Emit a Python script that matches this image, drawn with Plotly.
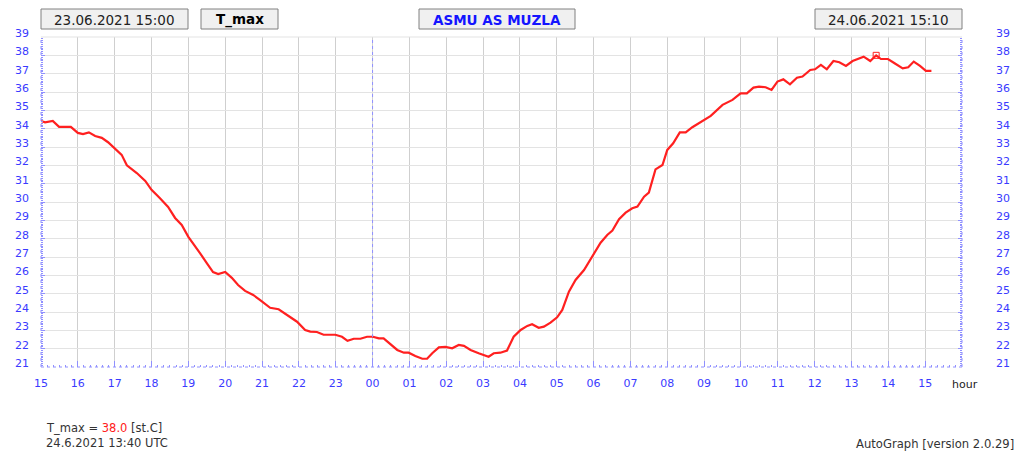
import plotly.graph_objects as go

# ---- data (hours since 23.06.2021 15:00, T_max in st.C) ----
hours = [0.00, 0.11, 0.32, 0.49, 0.81, 1.00, 1.14, 1.30, 1.47, 1.65, 1.82, 2.06, 2.19, 2.33,
         2.60, 2.83, 3.00, 3.23, 3.45, 3.64, 3.82, 4.00, 4.13, 4.32, 4.50, 4.67, 4.81, 5.00,
         5.18, 5.35, 5.54, 5.76, 5.95, 6.22, 6.45, 6.68, 6.95, 7.17, 7.31, 7.49, 7.67, 7.99,
         8.17, 8.32, 8.49, 8.67, 8.85, 9.01, 9.17, 9.30, 9.48, 9.67, 9.85, 9.98, 10.16, 10.35,
         10.48, 10.62, 10.80, 10.98, 11.16, 11.34, 11.48, 11.66, 11.88, 12.15, 12.29, 12.47,
         12.65, 12.83, 13.02, 13.20, 13.33, 13.51, 13.65, 13.83, 14.01, 14.15, 14.33, 14.51,
         14.74, 14.96, 15.19, 15.37, 15.51, 15.69, 15.87, 16.05, 16.19, 16.37, 16.50, 16.68,
         16.87, 17.00, 17.16, 17.34, 17.50, 17.68, 17.91, 18.18, 18.50, 18.77, 18.99, 19.16,
         19.34, 19.49, 19.67, 19.83, 19.99, 20.15, 20.33, 20.52, 20.67, 20.88, 21.01, 21.17,
         21.33, 21.51, 21.67, 21.85, 22.03, 22.18, 22.33, 22.51, 22.67, 22.80, 22.99, 23.17,
         23.39, 23.54, 23.69, 23.86, 24.02, 24.17]
t_max = [34.42, 34.35, 34.42, 34.10, 34.10, 33.77, 33.70, 33.80, 33.60, 33.50, 33.26, 32.84, 32.57, 32.00,
         31.58, 31.15, 30.66, 30.20, 29.73, 29.13, 28.75, 28.10, 27.76, 27.20, 26.67, 26.18, 26.07, 26.18,
         25.86, 25.47, 25.15, 24.93, 24.65, 24.23, 24.15, 23.84, 23.47, 23.02, 22.93, 22.91, 22.76, 22.76,
         22.65, 22.43, 22.54, 22.54, 22.65, 22.65, 22.56, 22.56, 22.25, 21.93, 21.78, 21.78, 21.60, 21.45,
         21.45, 21.75, 22.07, 22.10, 22.02, 22.20, 22.15, 21.93, 21.75, 21.56, 21.75, 21.78,
         21.90, 22.65, 23.02, 23.24, 23.33, 23.14, 23.20, 23.42, 23.71, 24.11, 25.11, 25.75,
         26.29, 27.02, 27.78, 28.20, 28.44, 29.06, 29.42, 29.66, 29.75, 30.29, 30.51, 31.78,
         32.02, 32.84, 33.20, 33.80, 33.80, 34.08, 34.38, 34.70, 35.30, 35.57, 35.93, 35.93,
         36.24, 36.29, 36.26, 36.11, 36.57, 36.69, 36.42, 36.78, 36.84, 37.20, 37.24, 37.48,
         37.24, 37.69, 37.62, 37.42, 37.69, 37.80, 37.93, 37.69, 38.00, 37.80, 37.80, 37.57,
         37.29, 37.35, 37.66, 37.42, 37.15, 37.15]
max_hour = [22.67]
max_value = [38.0]
hour_ticks = list(range(0, 25))
hour_labels = ["15", "16", "17", "18", "19", "20", "21", "22", "23", "00", "01", "02", "03",
               "04", "05", "06", "07", "08", "09", "10", "11", "12", "13", "14", "15"]
midnight_hour = 9
y_ticks = list(range(21, 40))

FONT = "DejaVu Sans"
BLUE = "#3a3aff"
AXBLUE = "#9090ff"

fig = go.Figure()
fig.add_trace(go.Scatter(x=hours, y=t_max, mode="lines",
                         line=dict(color="#ff2020", width=2.2), hoverinfo="skip"))
fig.add_trace(go.Scatter(x=max_hour, y=max_value, mode="markers", yaxis="y2",
                         marker=dict(symbol="square-open", size=6, color="#ff2020",
                                     line=dict(width=1, color="#ff2020"))))

yax_common = dict(range=[21, 39], tickvals=y_ticks, ticks="inside", ticklen=4,
                  tickcolor=AXBLUE, tickwidth=1, zeroline=False, showline=False,
                  tickfont=dict(family=FONT, size=11, color=BLUE),
                  minor=dict(dtick=0.1, ticks="inside", ticklen=2, tickcolor=AXBLUE,
                             showgrid=False),
                  fixedrange=True)

fig.update_layout(
    width=1024, height=461,
    margin=dict(l=41, r=62, t=37, b=94, autoexpand=False),
    paper_bgcolor="white", plot_bgcolor="white",
    showlegend=False,
    xaxis=dict(range=[0, 25], tickvals=hour_ticks, ticktext=hour_labels,
               ticks="inside", ticklen=6, tickcolor=AXBLUE, zeroline=False, showline=False,
               showgrid=True, gridcolor="#cfcfcf", gridwidth=1,
               tickfont=dict(family=FONT, size=11, color=BLUE), ticklabelstandoff=8,
               minor=dict(dtick=1 / 6, ticks="inside", ticklen=2, tickcolor=AXBLUE,
                          showgrid=False)),
    yaxis=dict(**yax_common, side="left", showgrid=True, gridcolor="#e3e3e3",
               gridwidth=1, ticklabelstandoff=11, ticklabelshift=-4),
    yaxis2=dict(**yax_common, side="right", overlaying="y", showgrid=False,
                ticklabelstandoff=33, ticklabelshift=-4),
)

# borders (dotted blue) and midnight line
for x0, y0, x1, y1 in [(0, 0, 0, 1), (1, 0, 1, 1), (0, 0, 1, 0)]:
    fig.add_shape(type="line", xref="paper", yref="paper", x0=x0, y0=y0, x1=x1, y1=y1,
                  line=dict(color=AXBLUE, width=1, dash="dot"))
fig.add_shape(type="line", xref="paper", yref="paper", x0=0, y0=1, x1=1, y1=1,
              line=dict(color="#e3e3e3", width=1))
fig.add_shape(type="line", xref="x", yref="paper", x0=midnight_hour, x1=midnight_hour,
              y0=0, y1=1, line=dict(color=AXBLUE, width=1, dash="dot"))

# header boxes
W, H = 921.0, 330.0
def px(xp):
    return (xp - 41) / W
def py(yp):
    return (367 - yp) / H

boxes = [("23.06.2021 15:00", 41, 188, "#222222", False),
         ("T_max", 201, 278, "#000000", True),
         ("ASMU AS MUZLA", 419, 575, "#1414ff", True),
         ("24.06.2021 15:10", 815, 962, "#222222", False)]
for txt, xa, xb, col, bold in boxes:
    fig.add_shape(type="rect", xref="paper", yref="paper", x0=px(xa), x1=px(xb),
                  y0=py(29), y1=py(9), fillcolor="#f0f0f0",
                  line=dict(color="#808080", width=1))
    fig.add_annotation(xref="paper", yref="paper", x=px((xa + xb) / 2), y=py(19.5),
                       text=f"<b>{txt}</b>" if bold else txt, showarrow=False,
                       xanchor="center", yanchor="middle",
                       font=dict(family=FONT, size=13.5, color=col))

fig.add_annotation(xref="paper", yref="paper", x=px(950), y=py(384), text="hour",
                   showarrow=False, xanchor="left", yanchor="middle",
                   font=dict(family=FONT, size=11, color="#222222"))
fig.add_annotation(xref="paper", yref="paper", x=px(44), y=py(428),
                   text='T_max = <span style="color:#ff2020">38.0</span> [st.C]',
                   showarrow=False, xanchor="left", yanchor="middle",
                   font=dict(family=FONT, size=11.5, color="#333333"))
fig.add_annotation(xref="paper", yref="paper", x=px(44), y=py(443),
                   text="24.6.2021 13:40 UTC",
                   showarrow=False, xanchor="left", yanchor="middle",
                   font=dict(family=FONT, size=11.5, color="#333333"))
fig.add_annotation(xref="paper", yref="paper", x=px(1016), y=py(444),
                   text="AutoGraph [version 2.0.29]",
                   showarrow=False, xanchor="right", yanchor="middle",
                   font=dict(family=FONT, size=11.6, color="#333333"))

fig.write_html("out.html", config={"displayModeBar": False},
               post_script="document.body.style.margin='0';document.body.style.overflow='hidden';")
